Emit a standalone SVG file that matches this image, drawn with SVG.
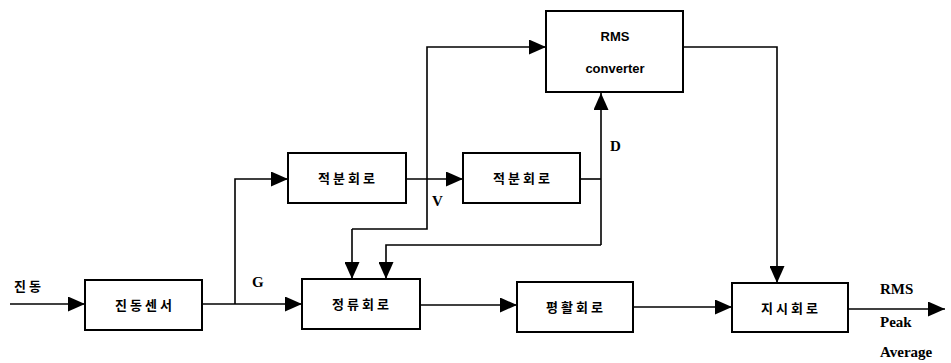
<svg xmlns="http://www.w3.org/2000/svg" width="951" height="363" viewBox="0 0 951 363">
<defs>
<marker id="ah" markerWidth="17" markerHeight="15" refX="17" refY="7.5" orient="auto" markerUnits="userSpaceOnUse">
<path d="M0,0 L17,7.5 L0,15 Z" fill="#000"/>
</marker>
</defs>
<style>
.box{fill:#fff;stroke:#000;stroke-width:2}
.ln{fill:none;stroke:#000;stroke-width:1.6;marker-end:url(#ah)}
.pl{fill:none;stroke:#000;stroke-width:1.6}
.kr{font-family:"Noto Sans CJK KR",sans-serif;font-weight:bold;font-size:13px;letter-spacing:3px;text-anchor:middle}
.lb{font-family:"Liberation Serif",serif;font-weight:bold;font-size:15px}
.en{font-family:"Liberation Sans",sans-serif;font-weight:bold;font-size:13px;text-anchor:middle}
</style>
<rect width="951" height="363" fill="#fff"/>
<g id="connectors">
<path class="ln" d="M10,304 H85"/>
<path class="ln" d="M202,304 H302"/>
<path class="ln" d="M235,304 V179 H288"/>
<path class="ln" d="M406,179 H463"/>
<path class="pl" d="M580,179 H601"/>
<path class="ln" d="M601,245 V93"/>
<path class="ln" d="M352,229 H427 V47 H546"/>
<path class="ln" d="M601,245 H386 V279"/>
<path class="ln" d="M352,229 V279"/>
<path class="ln" d="M420,305 H517"/>
<path class="ln" d="M633,307 H732"/>
<path class="ln" d="M683,47 H777 V283"/>
<path class="ln" d="M848,309 H945"/>
</g>
<g id="sensor"><rect class="box" x="85" y="280" width="117" height="50"/><text class="kr" x="145" y="310">진동센서</text></g>
<g id="int1"><rect class="box" x="288" y="153" width="118" height="50"/><text class="kr" x="348" y="183">적분회로</text></g>
<g id="int2"><rect class="box" x="463" y="153" width="117" height="50"/><text class="kr" x="523" y="183">적분회로</text></g>
<g id="rms"><rect class="box" x="546" y="11" width="137" height="81"/><text class="en" x="615" y="41">RMS</text><text class="en" x="615" y="73">converter</text></g>
<g id="rect"><rect class="box" x="302" y="279" width="118" height="50"/><text class="kr" x="362" y="309">정류회로</text></g>
<g id="smooth"><rect class="box" x="517" y="282" width="116" height="50"/><text class="kr" x="576" y="312">평활회로</text></g>
<g id="ind"><rect class="box" x="732" y="283" width="116" height="49"/><text class="kr" x="791" y="313">지시회로</text></g>
<g id="labels">
<text class="kr" x="29" y="291" style="text-anchor:middle">진동</text>
<text class="lb" x="252" y="287">G</text>
<text class="lb" x="432" y="206">V</text>
<text class="lb" x="610" y="151">D</text>
<text class="lb" x="880" y="294">RMS</text>
<text class="lb" x="880" y="327">Peak</text>
<text class="lb" x="880" y="357">Average</text>
</g>
</svg>
